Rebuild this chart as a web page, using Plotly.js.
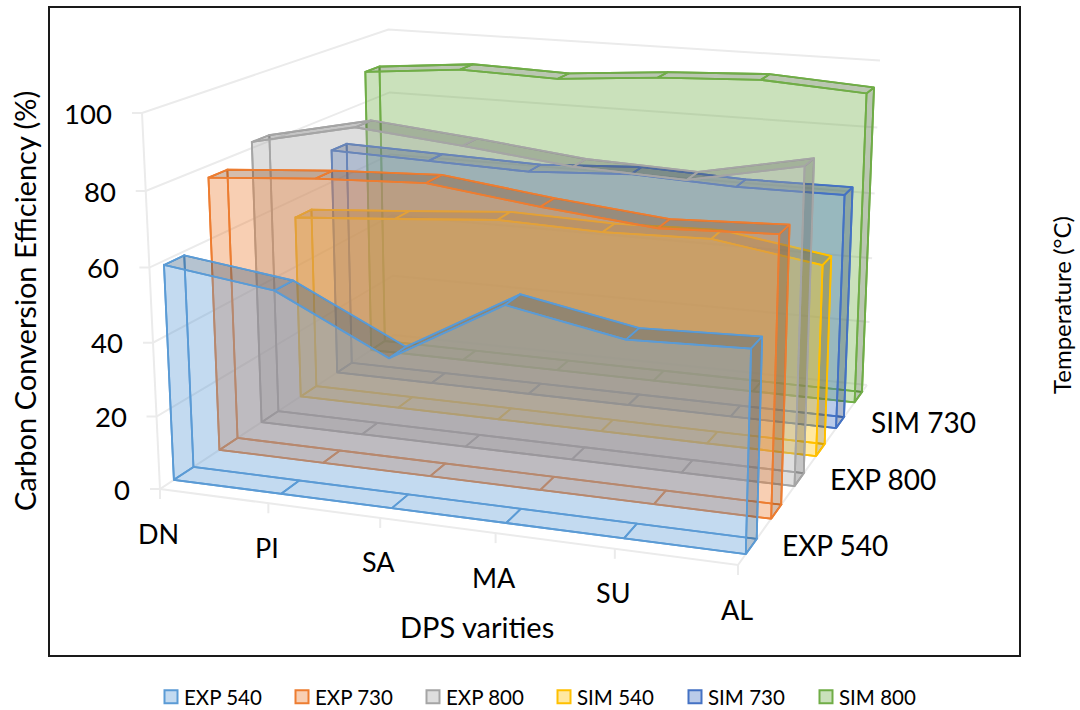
<!DOCTYPE html><html><head><meta charset="utf-8"><script src="https://cdn.plot.ly/plotly-3.0.1.min.js"></script></head><body style="margin:0;background:#fff;overflow:hidden"><div id="c" style="width:1080px;height:710px"></div><script>
const categories=['DN','PI','SA','MA','SU','AL'];
const seriesNames=['EXP 540','EXP 730','EXP 800','SIM 540','SIM 730','SIM 800'];
const exp540=[58.9,55.0,40.3,57.3,51.6,52.6];
const exp730=[76.8,79.0,80.3,76.6,73.7,74.9];
const exp800=[81.7,88.1,85.3,82.0,80.9,87.0];
const sim540=[54.6,56.8,59.2,58.4,59.2,54.6];
const sim730=[69.6,68.8,68.0,69.7,68.5,68.7];
const sim800=[89.4,92.1,91.3,93.7,95.1,93.2];
const colors=['#5B9BD5','#ED7D31','#A5A5A5','#FFC000','#4472C4','#70AD47'];
const valueTicks=[0,20,40,60,80,100];
const depthLabels=['EXP 540','EXP 800','SIM 730'];
const allValues=[exp540,exp730,exp800,sim540,sim730,sim800];

// Perspective of the 3-D box, calibrated by the image of its corners
const A=[160,489],P1=[738,565],P2=[394,335],P3=[142,113],P110=[867,385],P111=[880,57];
const a1=P1[0]-P110[0],b1=P2[0]-P110[0],c1=P110[0]+A[0]-P1[0]-P2[0];
const a2=P1[1]-P110[1],b2=P2[1]-P110[1],c2=P110[1]+A[1]-P1[1]-P2[1];
const det=a1*b2-a2*b1,pp=(c1*b2-c2*b1)/det,qq=(a1*c2-a2*c1)/det;
const rr=(P111[0]+2*A[0]-P1[0]-P2[0]-P3[0]-pp*(P1[0]-P111[0])-qq*(P2[0]-P111[0]))/(P3[0]-P111[0]);
const ea=[0,1].map(i=>P1[i]*(1+pp)-A[i]),eb=[0,1].map(i=>P2[i]*(1+qq)-A[i]),ec=[0,1].map(i=>P3[i]*(1+rr)-A[i]);
function prj(cat,d,val){const u=cat/5,v=val/100,w=1+u*pp+d*qq+v*rr;
  return [0,1].map(i=>(A[i]+u*ea[i]+d*eb[i]+v*ec[i])/w);}
function rgba(hex,a,f){f=f||1;const n=parseInt(hex.slice(1),16);
  return 'rgba('+[(n>>16)&255,(n>>8)&255,n&255].map(c=>Math.round(c*f)).join(',')+','+a+')';}

const traces=[];
function poly(pts,line,fill,w){
  const closed=pts.concat([pts[0]]);
  traces.push({type:'scatter',mode:'lines',x:closed.map(p=>p[0]),y:closed.map(p=>p[1]),
    fill:fill?'toself':'none',fillcolor:fill||undefined,
    line:{color:line,width:w||1.8,shape:'linear',simplify:false},showlegend:false,hoverinfo:'skip'});
}
function seg(pts,color,w){
  traces.push({type:'scatter',mode:'lines',x:pts.map(p=>p[0]),y:pts.map(p=>p[1]),
    line:{color:color,width:w},showlegend:false,hoverinfo:'skip'});
}
const GRID='#ebebeb';
valueTicks.forEach(v=>{
  const a=prj(0,0,v),b=prj(0,1,v),c=prj(5,1,v);
  seg([[a[0]-10,a[1]],a,b,c],GRID,2);
});
seg([prj(0,0,0),prj(0,0,100)],GRID,2);
seg([prj(0,0,0),prj(5,0,0),prj(5,1,0)],GRID,2);
categories.forEach((c,i)=>{const a=prj(i,0,0);seg([a,[a[0],a[1]+10]],GRID,2);});
for(let s=5;s>=0;s--){
  const vals=allValues[s],col=colors[s],d0=(s+.29)/6,d1=(s+.71)/6;
  const idx=vals.map((_,i)=>i);
  const base=d=>[prj(0,d,0),prj(5,d,0)];
  const top=d=>idx.map(i=>prj(i,d,vals[i]));
  for(let i=0;i<5;i++)
    poly([prj(i,d0,0),prj(i+1,d0,0),prj(i+1,d1,0),prj(i,d1,0)],col);
  poly(base(d1).reverse().concat(top(d1)),col);
  poly([prj(0,d0,0),prj(0,d1,0),prj(0,d1,vals[0]),prj(0,d0,vals[0])],col);
  for(let i=0;i<5;i++)
    poly([prj(i,d0,vals[i]),prj(i+1,d0,vals[i+1]),prj(i+1,d1,vals[i+1]),prj(i,d1,vals[i])],col,rgba(col,.37,.6));
  poly([prj(5,d0,0),prj(5,d1,0),prj(5,d1,vals[5]),prj(5,d0,vals[5])],col,rgba(col,.37,.6));
  poly(base(d0).reverse().concat(top(d0)),col,rgba(col,.37));
}
seriesNames.forEach((n,s)=>traces.push({type:'scatter',mode:'markers',x:[null],y:[null],name:n,
  marker:{symbol:'square',size:13,color:rgba(colors[s],.37),line:{color:colors[s],width:2}},hoverinfo:'skip'}));

const FONT='Lato, "Noto Sans", sans-serif';
const ann=(text,x,y,opt)=>Object.assign({text,x,y,xref:'x',yref:'y',showarrow:false,
  font:{family:FONT,size:27,color:'#000'}},opt||{});
const annotations=[];
categories.forEach((c,i)=>{const a=prj(i,0,0);annotations.push(ann(c,a[0]-1.5,a[1],{yshift:-44}));});
valueTicks.forEach(v=>{const a=prj(0,0,v);annotations.push(ann(String(v),a[0]-28,a[1],{xanchor:'right',font:{family:FONT,size:27.5,color:'#000'}}));});
[0,2,4].forEach((s,j)=>{const a=prj(5,(s+.5)/6,0);annotations.push(ann(depthLabels[j],a[0]+29,a[1]-1,{xanchor:'left',font:{family:FONT,size:28,color:'#000'}}));});
annotations.push(ann('DPS varities',477,626,{font:{family:FONT,size:29,color:'#000'}}));
annotations.push(ann('Carbon Conversion Efficiency (%)',24,301,{textangle:-90,font:{family:FONT,size:29,color:'#000'}}));
annotations.push(ann('Temperature (°C)',1061,305,{textangle:-90,font:{family:FONT,size:24,color:'#000'}}));

const layout={width:1080,height:710,margin:{l:0,r:0,t:0,b:0,autoexpand:false},paper_bgcolor:'#fff',plot_bgcolor:'#fff',
  xaxis:{range:[0,1080],visible:false,fixedrange:true},
  yaxis:{range:[710,0],visible:false,fixedrange:true},
  shapes:[{type:'rect',xref:'x',yref:'y',x0:49,x1:1020,y0:7,y1:656,line:{color:'#1a1a1a',width:2},layer:'below'}],
  annotations,showlegend:true,
  legend:{orientation:'h',x:151/1080,xanchor:'left',y:13/710,yanchor:'middle',bgcolor:'rgba(0,0,0,0)',
    entrywidth:86,entrywidthmode:'pixels',itemwidth:30,font:{family:FONT,size:20.5,color:'#000'},traceorder:'normal'}};
Plotly.newPlot('c',traces,layout,{displayModeBar:false}).then(()=>{
  document.querySelectorAll('.legendtext').forEach(t=>t.setAttribute('x',+t.getAttribute('x')-7));
});
</script></body></html>
